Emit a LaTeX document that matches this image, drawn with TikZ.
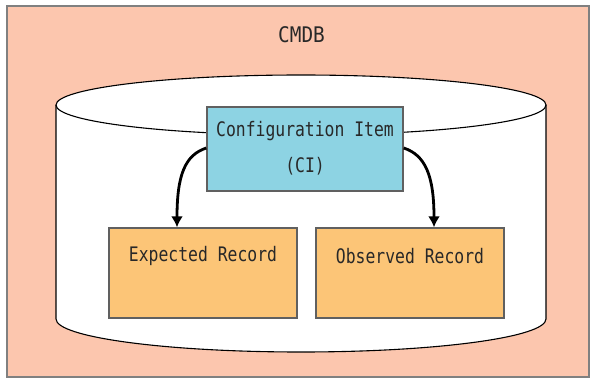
\documentclass[tikz,border=0pt]{standalone}
\usepackage{fontspec}
\usetikzlibrary{arrows.meta}
\newfontfamily\gfont[FakeStretch=0.82]{DejaVu Sans Mono}
\newfontfamily\tfont[FakeStretch=0.90]{DejaVu Sans Mono}
\definecolor{bgsalmon}{RGB}{252,198,174}
\definecolor{ciblue}{RGB}{141,211,227}
\definecolor{recorange}{RGB}{252,197,119}
\definecolor{edgegray}{RGB}{96,96,96}
\definecolor{txtgray}{RGB}{40,40,40}
\tikzset{
  box/.style={draw=edgegray, line width=1.4pt, minimum width=#1, inner sep=0pt},
  lbl/.style={font=\gfont\fontsize{20}{24}\selectfont, text=txtgray},
  flow/.style={line width=2.8pt, -{Latex[length=11pt,width=12pt]}},
  cyl/.style={draw=black, line width=1.1pt}
}
\begin{document}
\begin{tikzpicture}[x=1pt,y=1pt]
\useasboundingbox (0,0) rectangle (594,378);
% background frame
\filldraw[fill=bgsalmon, draw=gray, line width=2pt] (7,1) rectangle (589,372);
\node[font=\tfont\fontsize{21.5}{26}\selectfont, text=txtgray] (title) at (301.5,343) {CMDB};
% cylinder body
\fill[white] (56,273) -- (56,59) arc[start angle=180, end angle=360, x radius=245, y radius=33] -- (546,273) -- cycle;
\fill[white] (301,273) ellipse[x radius=245, y radius=30];
\draw[cyl] (56,273) -- (56,59) arc[start angle=180, end angle=360, x radius=245, y radius=33] -- (546,273);
\draw[cyl] (301,273) ellipse[x radius=245, y radius=30];
% boxes
\node[box=196pt, minimum height=84pt, fill=ciblue] (ci) at (305,229) {};
\node[lbl] (citext) at (305,247) {Configuration Item};
\node[lbl] (cisub) at (305,212) {(CI)};
\node[box=188pt, minimum height=90pt, fill=recorange] (exp) at (203,105) {};
\node[lbl] (exptext) at (203,122) {Expected Record};
\node[box=188pt, minimum height=90pt, fill=recorange] (obs) at (410,105) {};
\node[lbl] (obstext) at (410,122) {Observed Record};
% arrows
\draw[flow] ([yshift=1pt]ci.west) .. controls (185,223) and (177,203) .. ([xshift=-26pt]exp.north);
\draw[flow] ([yshift=1pt]ci.east) .. controls (425,223) and (434,203) .. ([xshift=24pt]obs.north);
\end{tikzpicture}
\end{document}
